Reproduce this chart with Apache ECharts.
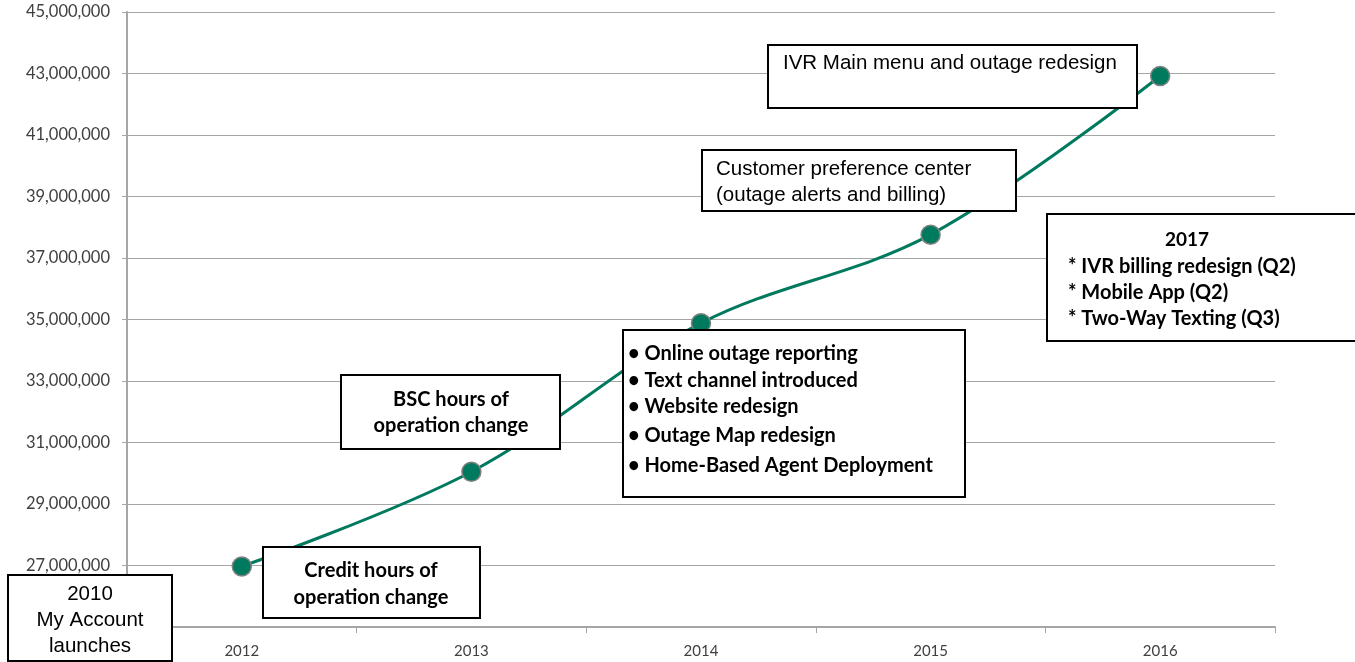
<!DOCTYPE html>
<html>
<head>
<meta charset="utf-8">
<script src="https://cdn.jsdelivr.net/npm/echarts@6/dist/echarts.min.js"></script>
<style>
  html, body { margin: 0; padding: 0; background: #fff; }
  #main { width: 1355px; height: 662px; }
</style>
</head>
<body>
<div id="main"></div>
<script>
var years = ['2012', '2013', '2014', '2015', '2016'];
var contacts = [26970000, 30050000, 34880000, 37760000, 42920000];

var yMin = 25000000;
var yMax = 45000000;
var yStep = 2000000;

// annotation texts
var note2010 = ['2010', 'My Account', 'launches'];
var noteCredit = ['Credit hours of', 'operation change'];
var noteBsc = ['BSC hours of', 'operation change'];
var note2014 = ['Online outage reporting', 'Text channel introduced', 'Website redesign', 'Outage Map redesign', 'Home-Based Agent Deployment'];
var note2015 = ['Customer preference center', '(outage alerts and billing)'];
var note2016 = ['IVR Main menu and outage redesign'];
var note2017Title = '2017';
var note2017 = ['* IVR billing redesign (Q2)', '* Mobile App (Q2)', '* Two-Way Texting (Q3)'];

var chart = echarts.init(document.getElementById('main'));

function box(x, y, w, h, children) {
  return {
    type: 'group',
    x: x,
    y: y,
    children: [{
      type: 'rect',
      z: 100,
      shape: { x: 0, y: 0, width: w, height: h },
      style: { fill: '#fff', stroke: '#000', lineWidth: 2 }
    }].concat(children)
  };
}

function txt(str, x, y, opt) {
  opt = opt || {};
  return {
    type: 'text',
    z: 101,
    style: {
      text: str,
      x: x,
      y: y,
      fill: '#000',
      fontSize: opt.size || 20.5,
      fontFamily: opt.family || 'Liberation Sans',
      fontWeight: opt.bold ? 'bold' : 'normal',
      textAlign: opt.align || 'left',
      textVerticalAlign: 'middle'
    }
  };
}

var bold = { bold: true, family: 'Lato', size: 20, align: 'center' };
var list = { bold: true, family: 'Lato', size: 20 };
var plainC = { align: 'center', size: 20.5 };

var graphics = [
  box(8, 575, 164, 86, [
    txt(note2010[0], 82, 19, plainC),
    txt(note2010[1], 82, 45, plainC),
    txt(note2010[2], 82, 71, plainC)
  ]),
  box(263, 547, 217, 71, [
    txt(noteCredit[0], 108, 24, bold),
    txt(noteCredit[1], 108, 51, bold)
  ]),
  box(341, 375, 219, 74, [
    txt(noteBsc[0], 110, 25, bold),
    txt(noteBsc[1], 110, 51, bold)
  ]),
  box(623, 330, 342, 167, [
    txt('\u2022 ' + note2014[0], 5, 24, list),
    txt('\u2022 ' + note2014[1], 5, 51, list),
    txt('\u2022 ' + note2014[2], 5, 77, list),
    txt('\u2022 ' + note2014[3], 5, 106, list),
    txt('\u2022 ' + note2014[4], 5, 136, list)
  ]),
  box(702, 150, 314, 61, [
    txt(note2015[0], 14, 19),
    txt(note2015[1], 14, 45)
  ]),
  box(768, 45, 369, 63, [
    txt(note2016[0], 15, 18)
  ]),
  box(1047, 214, 312, 127, [
    txt(note2017Title, 140, 26, { bold: true, family: 'Lato', size: 19, align: 'center' }),
    txt(note2017[0], 21, 53, list),
    txt(note2017[1], 21, 79, list),
    txt(note2017[2], 21, 105, list)
  ])
];

var option = {
  animation: false,
  backgroundColor: '#fff',
  grid: { left: 127, right: 80, top: 12, bottom: 35 },
  xAxis: {
    type: 'category',
    data: years,
    boundaryGap: true,
    axisLine: { lineStyle: { color: '#a6a6a6', width: 2 } },
    axisTick: { show: true, length: 6, lineStyle: { color: '#a6a6a6' } },
    axisLabel: { color: '#404040', fontFamily: 'Lato', fontSize: 15, margin: 17 },
    splitLine: { show: false }
  },
  yAxis: {
    type: 'value',
    min: yMin,
    max: yMax,
    interval: yStep,
    axisLine: { show: true, lineStyle: { color: '#a6a6a6', width: 2 } },
    axisTick: { show: true, length: 5, lineStyle: { color: '#a6a6a6' } },
    axisLabel: {
      color: '#404040',
      fontFamily: 'Lato',
      fontSize: 16.5,
      margin: 17,
      formatter: function (v) { return v.toLocaleString('en-US'); }
    },
    splitLine: { lineStyle: { color: '#a6a6a6', width: 1 } }
  },
  series: [{
    type: 'line',
    data: contacts,
    smooth: 0.35,
    symbol: 'circle',
    symbolSize: 19,
    lineStyle: { color: '#007a5e', width: 3 },
    itemStyle: { color: '#007a5e', borderColor: '#808080', borderWidth: 1.5 },
    z: 3
  }],
  graphic: graphics
};

chart.setOption(option);
</script>
</body>
</html>
